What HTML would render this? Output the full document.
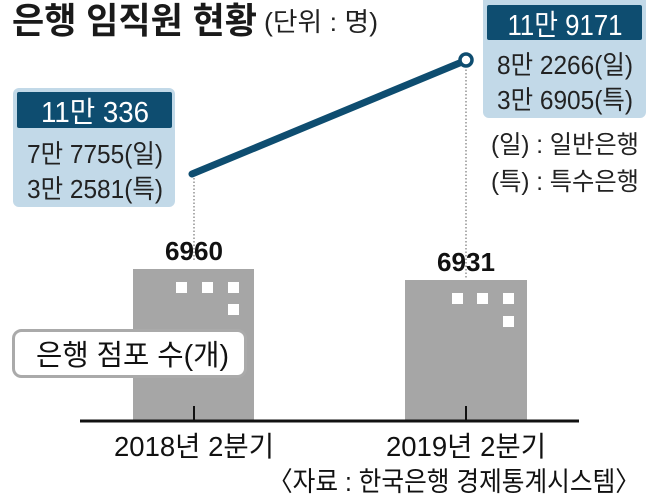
<!DOCTYPE html>
<html><head><meta charset="utf-8"><style>
html,body{margin:0;padding:0;background:#fff;}
svg{display:block;}
text{font-family:"Liberation Sans","Noto Sans CJK KR",sans-serif;}
</style></head><body>
<svg width="660" height="503" viewBox="0 0 660 503" xmlns="http://www.w3.org/2000/svg">
<text x="12" y="33" font-size="36" font-weight="bold" fill="#1a1a1a" textLength="245" lengthAdjust="spacingAndGlyphs">은행 임직원 현황</text>
<text x="264" y="31" font-size="26" fill="#222" textLength="114" lengthAdjust="spacingAndGlyphs">(단위 : 명)</text>

<rect x="133" y="269" width="121" height="152" fill="#a6a6a6"/>
<rect x="405" y="280" width="122" height="141" fill="#a6a6a6"/>
<g fill="#fff">
<rect x="176" y="282" width="11" height="11"/><rect x="202" y="282" width="11" height="11"/><rect x="228" y="282" width="11" height="11"/><rect x="228" y="304" width="11" height="11"/>
<rect x="452" y="293" width="11" height="11"/><rect x="477" y="293" width="11" height="11"/><rect x="503" y="293" width="11" height="11"/><rect x="503" y="316" width="11" height="11"/>
</g>
<line x1="80" y1="421" x2="579" y2="421" stroke="#111" stroke-width="3"/>
<line x1="194" y1="406" x2="194" y2="421" stroke="#111" stroke-width="2"/>
<line x1="466" y1="406" x2="466" y2="421" stroke="#111" stroke-width="2"/>

<line x1="194" y1="178" x2="194" y2="262" stroke="#777" stroke-width="1.2" stroke-dasharray="1.5,2"/>
<line x1="466" y1="66" x2="466" y2="278" stroke="#777" stroke-width="1.2" stroke-dasharray="1.5,2"/>

<text x="194" y="260" font-size="26" font-weight="bold" fill="#111" text-anchor="middle" textLength="58" lengthAdjust="spacingAndGlyphs">6960</text>
<text x="466" y="271" font-size="26" font-weight="bold" fill="#111" text-anchor="middle" textLength="58" lengthAdjust="spacingAndGlyphs">6931</text>

<line x1="192" y1="174" x2="462" y2="62" stroke="#0e4d70" stroke-width="7" stroke-linecap="round"/>
<circle cx="466" cy="60" r="6" fill="#fff" stroke="#0e4d70" stroke-width="3.5"/>

<rect x="13" y="88" width="162" height="119" rx="6" fill="#c2d9e8"/>
<rect x="17" y="92" width="155" height="36" rx="2" fill="#0e4d70"/>
<text x="95" y="122" font-size="29" fill="#fff" text-anchor="middle" textLength="108" lengthAdjust="spacingAndGlyphs">11만 336</text>
<text x="95" y="163" font-size="26" fill="#222" text-anchor="middle" textLength="136" lengthAdjust="spacingAndGlyphs">7만 7755(일)</text>
<text x="95" y="198" font-size="26" fill="#222" text-anchor="middle" textLength="136" lengthAdjust="spacingAndGlyphs">3만 2581(특)</text>

<rect x="483" y="-6" width="163" height="124" rx="6" fill="#c2d9e8"/>
<rect x="487" y="5" width="155" height="35" rx="2" fill="#0e4d70"/>
<text x="565" y="35" font-size="29" fill="#fff" text-anchor="middle" textLength="115" lengthAdjust="spacingAndGlyphs">11만 9171</text>
<text x="565" y="74" font-size="26" fill="#222" text-anchor="middle" textLength="136" lengthAdjust="spacingAndGlyphs">8만 2266(일)</text>
<text x="565" y="109" font-size="26" fill="#222" text-anchor="middle" textLength="136" lengthAdjust="spacingAndGlyphs">3만 6905(특)</text>

<text x="491" y="153" font-size="25" fill="#222" textLength="148" lengthAdjust="spacingAndGlyphs">(일) : 일반은행</text>
<text x="491" y="190" font-size="25" fill="#222" textLength="148" lengthAdjust="spacingAndGlyphs">(특) : 특수은행</text>

<rect x="13.5" y="330.5" width="232" height="46" rx="8" fill="#fff" stroke="#aaa" stroke-width="3"/>
<text x="36" y="365" font-size="29" fill="#111" textLength="193" lengthAdjust="spacingAndGlyphs">은행 점포 수(개)</text>

<text x="194" y="456" font-size="28" fill="#111" text-anchor="middle" textLength="160" lengthAdjust="spacingAndGlyphs">2018년 2분기</text>
<text x="466" y="456" font-size="28" fill="#111" text-anchor="middle" textLength="160" lengthAdjust="spacingAndGlyphs">2019년 2분기</text>
<text x="268" y="491" font-size="27" fill="#111" textLength="372" lengthAdjust="spacingAndGlyphs">〈자료 : 한국은행 경제통계시스템〉</text>
</svg>
</body></html>
